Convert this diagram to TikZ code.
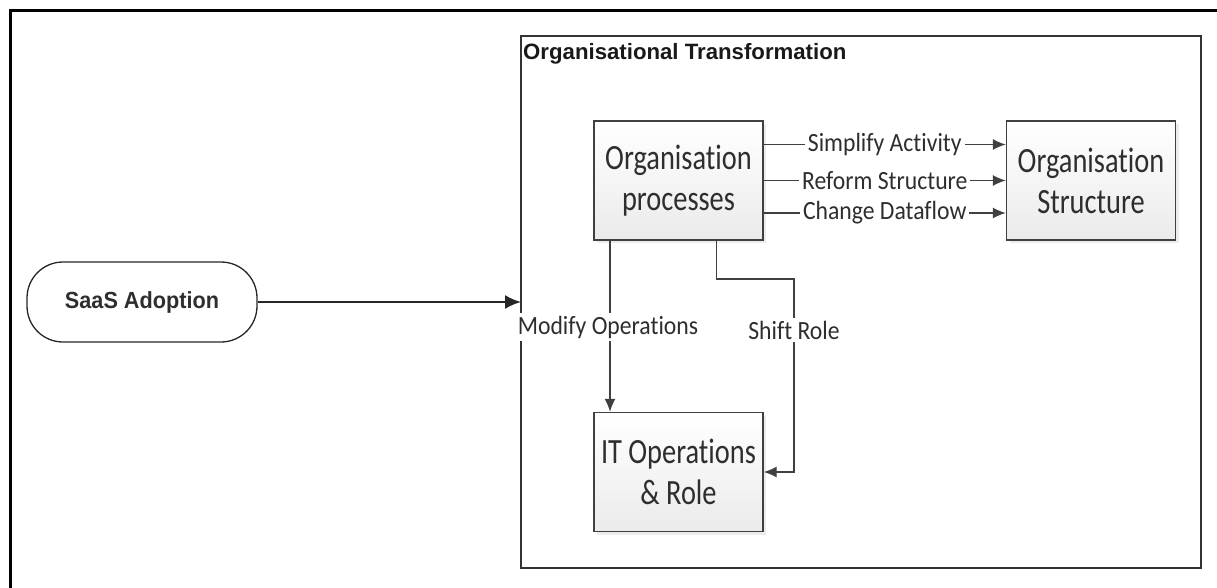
\documentclass[tikz,border=0pt]{standalone}
\usepackage{fontspec}
\setmainfont{Carlito}[Ligatures=NoCommon]
\newfontfamily\boxf{Carlito}[Ligatures=NoCommon,FakeStretch=0.8]
\newfontfamily\lblf{Carlito}[Ligatures=NoCommon,FakeStretch=0.9]
\newfontfamily\arialf{Liberation Sans}
\newfontfamily\saasf{Liberation Sans}[FakeStretch=0.93]
\usetikzlibrary{arrows.meta,shadows}
\definecolor{lc}{HTML}{404040}
\definecolor{tc}{HTML}{2E2E2E}
\begin{document}
\begin{tikzpicture}[x=1pt,y=-1pt,
  procbox/.style={draw=lc,line width=1.4pt,minimum width=169pt,minimum height=119pt,
    top color=white,bottom color=gray!16,align=center,text=tc,inner sep=2pt,
    font=\boxf\fontsize{35.5}{41}\selectfont,
    drop shadow={opacity=0.15,shadow xshift=3pt,shadow yshift=-3pt}},
  startbox/.style={draw=black!85,line width=1.3pt,rounded corners=36pt,minimum width=230pt,
    minimum height=80pt,text=tc,font=\saasf\bfseries\fontsize{23.3}{26}\selectfont},
  conn/.style={draw=lc,line width=1.3pt,-{Latex[length=13pt,width=11pt]}},
  lbl/.style={fill=white,inner sep=3pt,text=tc,font=\lblf\fontsize{26.3}{28}\selectfont}]
\useasboundingbox (0,0) rectangle (1217,588);
\coordinate (fa) at (10,600);
\coordinate (fb) at (10,11);
\coordinate (fc) at (1230,11);
\draw[line width=3pt,black] (fa) -- (fb) -- (fc);
% container
\coordinate (ca) at (521,36);
\coordinate (cb) at (1201,568);
\draw[line width=1.5pt,black!80] (ca) rectangle (cb);
\node[anchor=west,text=black!90,font=\arialf\bfseries\fontsize{22.2}{24}\selectfont,inner sep=0pt] (title) at (523,54) {Organisational Transformation};
% boxes
\node[procbox] (op) at (678.5,180.5) {Organisation\\processes};
\node[procbox] (os) at (1091,180.5) {Organisation\\Structure};
\node[procbox] (it) at (678.5,472) {IT Operations\\\& Role};
\node[startbox] (saas) at (142,302) {SaaS Adoption};
% connectors
\draw[draw=black!85,line width=2pt,-{Latex[length=16pt,width=14pt]}] (saas.east) -- (saas.east -| ca);
\draw[conn] ([yshift=36pt]op.east) -- node[lbl] {Simplify Activity} ([yshift=36pt]os.west);
\draw[conn] (op.east) -- node[lbl] {Reform Structure} (os.west);
\draw[conn] ([yshift=-32.5pt]op.east) -- node[lbl] {Change Dataflow} ([yshift=-32.5pt]os.west);
\draw[conn] ([xshift=-68.5pt]op.south) -- ([xshift=-68.5pt]it.north);
\coordinate (sr) at (794,279);
\draw[conn] ([xshift=38pt]op.south) |- (sr) |- (it.east);
\node[lbl] (ml) at (608,327) {Modify Operations};
\node[lbl] (sl) at (794,330) {Shift Role};
\end{tikzpicture}
\end{document}
